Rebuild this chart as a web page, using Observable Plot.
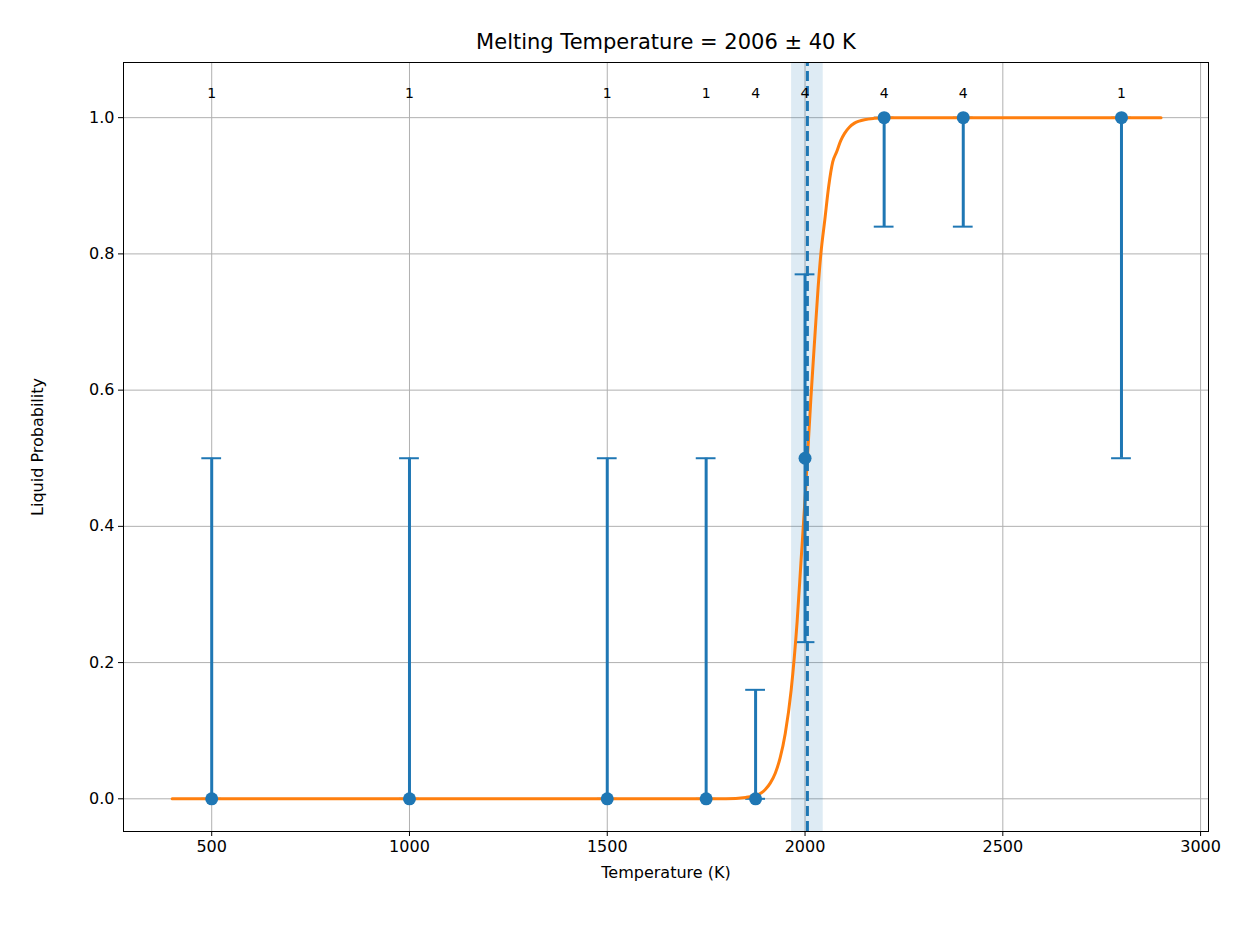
<!DOCTYPE html>
<html><head><meta charset="utf-8">
<script src="https://cdn.jsdelivr.net/npm/d3@7"></script>
<script src="https://cdn.jsdelivr.net/npm/@observablehq/plot@0.6"></script>
<style>body{margin:0;background:#fff;font-family:"DejaVu Sans",sans-serif}</style>
</head><body><div id="c"></div>
<script>
const temps = [500, 1000, 1500, 1750, 1875, 2000, 2200, 2400, 2800];
const probs = [0, 0, 0, 0, 0, 0.5, 1, 1, 1];
const lows  = [0, 0, 0, 0, 0, 0.23, 0.84, 0.84, 0.5];
const highs = [0.5, 0.5, 0.5, 0.5, 0.16, 0.77, 1, 1, 1];
const counts = [1, 1, 1, 1, 4, 4, 4, 4, 1];
const fitT = [400, 1800, 1850, 1875, 1890, 1900, 1912, 1925, 1937, 1950, 1965, 1980, 1990, 2000, 2006, 2015, 2025, 2033, 2040, 2050, 2060, 2070, 2080, 2090, 2100, 2112, 2125, 2137, 2150, 2175, 2200, 2900];
const fitP = [0, 0, 0.002, 0.005, 0.009, 0.014, 0.023, 0.038, 0.06, 0.096, 0.16, 0.26, 0.35, 0.44, 0.5, 0.59, 0.68, 0.75, 0.80, 0.85, 0.90, 0.935, 0.95, 0.966, 0.977, 0.986, 0.992, 0.995, 0.997, 0.999, 1, 1];
const tm = 2006, tmErr = 40;
const capHalf = 25;

const pts = temps.map((t,i)=>({t, p:probs[i], lo:lows[i], hi:highs[i], n:counts[i]}));
const fit = fitT.map((t,i)=>({t, p:fitP[i]}));
const blue = "#1f77b4", orange = "#ff7f0e";

const chart = Plot.plot({
  width: 1253, height: 939,
  marginTop: 62, marginBottom: 108, marginLeft: 123, marginRight: 45,
  style: {fontSize: "16px", fontFamily: "DejaVu Sans, sans-serif"},
  x: {domain: [277, 3020], ticks: [500,1000,1500,2000,2500,3000], tickFormat: d=>String(d), label: "Temperature (K)", labelAnchor: "center", labelArrow: "none", labelOffset: 46, tickSize: 5},
  y: {domain: [-0.048, 1.081], ticks: [0,0.2,0.4,0.6,0.8,1], tickFormat: d3.format(".1f"), label: "Liquid Probability", labelAnchor: "center", labelArrow: "none", labelOffset: 92, tickSize: 5},
  marks: [
    Plot.gridX([500,1000,1500,2000,2500,3000], {stroke: "#b0b0b0", strokeOpacity: 1}),
    Plot.gridY([0,0.2,0.4,0.6,0.8,1], {stroke: "#b0b0b0", strokeOpacity: 1}),
    Plot.rectX([{a: tm - tmErr, b: tm + tmErr}], {x1: "a", x2: "b", y1: -0.048, y2: 1.081, fill: blue, fillOpacity: 0.15}),
    Plot.ruleY(pts, {y: "lo", x1: d=>d.t-capHalf, x2: d=>d.t+capHalf, stroke: blue, strokeWidth: 2}),
    Plot.ruleY(pts, {y: "hi", x1: d=>d.t-capHalf, x2: d=>d.t+capHalf, stroke: blue, strokeWidth: 2}),
    Plot.line(fit, {x: "t", y: "p", stroke: orange, strokeWidth: 3, curve: "monotone-x"}),
    Plot.ruleX(pts, {x: "t", y1: "lo", y2: "hi", stroke: blue, strokeWidth: 3}),
    Plot.ruleX([tm], {y1: -0.048, y2: 1.081, stroke: blue, strokeWidth: 3, strokeDasharray: "10,5"}),
    Plot.dot(pts, {x: "t", y: "p", r: 6.5, fill: blue}),
    Plot.text(pts, {x: "t", y: 1.035, text: d=>String(d.n), fontSize: 14, fill: "black"}),
    Plot.text(["Melting Temperature = 2006 ± 40 K"], {frameAnchor: "top", dy: -28, fontSize: 21, fill: "black"}),
    Plot.frame({stroke: "black"})
  ]
});
document.getElementById("c").append(chart);
</script></body></html>
